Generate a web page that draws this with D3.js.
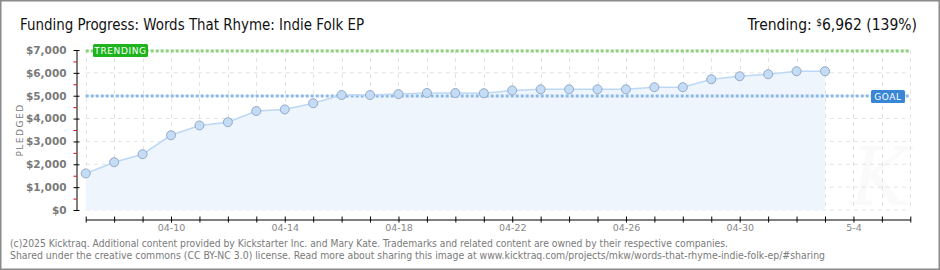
<!DOCTYPE html>
<html>
<head>
<meta charset="utf-8">
<script src="https://cdn.jsdelivr.net/npm/d3@7"></script>
<style>
  body { margin: 0; background: #fff; }
  svg { display: block; }
  .pix { font-family: "DejaVu Sans", sans-serif; }
</style>
</head>
<body>
<div id="chart"></div>
<script>
// daily pledged totals, 04-07 .. 05-03
var days = ["2025-04-07","2025-04-08","2025-04-09","2025-04-10","2025-04-11","2025-04-12","2025-04-13",
            "2025-04-14","2025-04-15","2025-04-16","2025-04-17","2025-04-18","2025-04-19","2025-04-20",
            "2025-04-21","2025-04-22","2025-04-23","2025-04-24","2025-04-25","2025-04-26","2025-04-27",
            "2025-04-28","2025-04-29","2025-04-30","2025-05-01","2025-05-02","2025-05-03"];
var pledged = [1600, 2090, 2440, 3270, 3700, 3840, 4330,
               4400, 4670, 5030, 5030, 5070, 5120, 5120,
               5110, 5230, 5280, 5280, 5280, 5280, 5370,
               5370, 5720, 5850, 5940, 6070, 6070];
var yTicks = [0, 1000, 2000, 3000, 4000, 5000, 6000, 7000];
var xLabels = {"2025-04-10": "04-10", "2025-04-14": "04-14", "2025-04-18": "04-18", "2025-04-22": "04-22",
               "2025-04-26": "04-26", "2025-04-30": "04-30", "2025-05-04": "5-4"};
var goal = 5000;
var trending = 6962;

var W = 940, H = 270;
var parse = d3.timeParse("%Y-%m-%d");
var fmtKey = d3.timeFormat("%Y-%m-%d");
var data = days.map(function(d, i) { return {date: parse(d), value: pledged[i]}; });

var x = d3.scaleTime()
  .domain([parse("2025-04-07"), parse("2025-05-06")])
  .range([85.7, 910.3]);
var y = d3.scaleLinear()
  .domain([0, 7000])
  .range([210, 50]);

var svg = d3.select("#chart").append("svg")
  .attr("width", W)
  .attr("height", H);

// frame
svg.append("rect")
  .attr("x", 0.5).attr("y", 0.5)
  .attr("width", W - 1).attr("height", H - 1)
  .attr("fill", "#fff").attr("stroke", "#8a8a8a").attr("stroke-width", 2);

// title
svg.append("text")
  .attr("x", 20).attr("y", 30)
  .attr("font-family", "'DejaVu Sans Condensed', 'Liberation Sans Narrow', sans-serif")
  .attr("font-size", 16)
  .attr("textLength", 344).attr("lengthAdjust", "spacingAndGlyphs")
  .attr("fill", "#111")
  .text("Funding Progress: Words That Rhyme: Indie Folk EP");

var tr = svg.append("text")
  .attr("x", 917).attr("y", 30)
  .attr("text-anchor", "end")
  .attr("font-family", "'DejaVu Sans Condensed', 'Liberation Sans Narrow', sans-serif")
  .attr("font-size", 15.5)
  .attr("fill", "#111");
tr.append("tspan").text("Trending: ");
tr.append("tspan").attr("font-size", 10).attr("dy", -4).text("$");
tr.append("tspan").attr("dy", 4).text(d3.format(",")(trending) + " (" + Math.round(trending / goal * 100) + "%)");

// watermark
svg.append("text")
  .attr("x", 850).attr("y", 205)
  .attr("font-family", "'DejaVu Serif', serif")
  .attr("font-style", "italic")
  .attr("font-size", 80)
  .attr("fill", "#fafafa")
  .text("K");

// grid
var allDays = d3.timeDay.range(x.domain()[0], d3.timeDay.offset(x.domain()[1], 1));
svg.append("g").selectAll("line")
  .data(yTicks)
  .enter().append("line")
  .attr("x1", x.range()[0]).attr("x2", x.range()[1])
  .attr("y1", function(d) { return y(d); }).attr("y2", function(d) { return y(d); })
  .attr("stroke", "#e3e3e3").attr("stroke-dasharray", "4,4");
svg.append("g").selectAll("line")
  .data(allDays)
  .enter().append("line")
  .attr("x1", function(d) { return Math.round(x(d)) + 0.5; })
  .attr("x2", function(d) { return Math.round(x(d)) + 0.5; })
  .attr("y1", y(7000)).attr("y2", y(0))
  .attr("stroke", "#e3e3e3").attr("stroke-dasharray", "4,4");

// area + line
var area = d3.area()
  .x(function(d) { return x(d.date); })
  .y0(y(0))
  .y1(function(d) { return y(d.value); });
var line = d3.line()
  .x(function(d) { return x(d.date); })
  .y(function(d) { return y(d.value); });

svg.append("path").datum(data)
  .attr("d", area)
  .attr("fill", "#eef5fd");

// goal and trending lines
svg.append("line")
  .attr("x1", x.range()[0]).attr("x2", x.range()[1])
  .attr("y1", Math.round(y(goal))).attr("y2", Math.round(y(goal)))
  .attr("stroke", "#8cb9ea").attr("stroke-width", 3).attr("stroke-dasharray", "3,2");
svg.append("line")
  .attr("x1", x.range()[0]).attr("x2", x.range()[1])
  .attr("y1", Math.round(y(trending))).attr("y2", Math.round(y(trending)))
  .attr("stroke", "#8fd07e").attr("stroke-width", 3).attr("stroke-dasharray", "3,2");

svg.append("path").datum(data)
  .attr("d", line)
  .attr("fill", "none")
  .attr("stroke", "#bcd8f6")
  .attr("stroke-width", 1.5);

svg.append("g").selectAll("circle")
  .data(data)
  .enter().append("circle")
  .attr("cx", function(d) { return x(d.date); })
  .attr("cy", function(d) { return y(d.value); })
  .attr("r", 4.5)
  .attr("fill", "#c4dcf6")
  .attr("stroke", "#93aac6")
  .attr("stroke-width", 1);

// labels on lines
function tag(xPos, yPos, w, color, label) {
  svg.append("rect")
    .attr("x", xPos).attr("y", yPos)
    .attr("width", w).attr("height", 13)
    .attr("rx", 1.5)
    .attr("fill", color);
  svg.append("text")
    .attr("x", xPos + w / 2).attr("y", yPos + 10)
    .attr("text-anchor", "middle")
    .attr("class", "pix")
    .attr("font-size", 9)
    .attr("letter-spacing", 0.6)
    .attr("fill", "#fff")
    .text(label);
}
tag(93, Math.round(y(trending)) - 7, 55, "#1db41d", "TRENDING");
tag(871, Math.round(y(goal)) - 6, 34, "#3a86d6", "GOAL");

// y axis
var yAxis = svg.append("g")
  .attr("transform", "translate(76.5,0)")
  .call(d3.axisLeft(y).tickValues(yTicks).tickSizeInner(3).tickSizeOuter(0)
    .tickPadding(7)
    .tickFormat(function(d) { return "$" + d3.format(",")(d); }));
yAxis.selectAll(".tick line").attr("x1", 3).attr("stroke", "#000");
yAxis.select(".domain").attr("stroke", "#000");
yAxis.selectAll("text")
  .attr("class", "pix")
  .attr("font-size", 10.5)
  .attr("font-weight", "bold")
  .attr("fill", "#7a7a7a");

var yMinor = svg.append("g")
  .attr("transform", "translate(76.5,0)")
  .call(d3.axisLeft(y).tickValues(d3.range(500, 7000, 1000)).tickSize(3).tickFormat(""));
yMinor.select(".domain").remove();
yMinor.selectAll(".tick line").attr("stroke", "#e00000");

svg.append("text")
  .attr("transform", "translate(23,130) rotate(-90)")
  .attr("text-anchor", "middle")
  .attr("class", "pix")
  .attr("font-size", 9)
  .attr("letter-spacing", 1.5)
  .attr("fill", "#7a7a7a")
  .text("PLEDGED");

// x axis
var xAxis = svg.append("g")
  .attr("transform", "translate(0,219.5)")
  .call(d3.axisBottom(x).tickValues(allDays).tickSizeInner(3).tickSizeOuter(0)
    .tickPadding(2)
    .tickFormat(function(d) { return xLabels[fmtKey(d)] || ""; }));
xAxis.selectAll(".tick line").attr("y1", -3).attr("stroke", "#000");
xAxis.select(".domain").attr("stroke", "#000");
xAxis.selectAll("text")
  .attr("class", "pix")
  .attr("font-size", 9.5)
  .attr("fill", "#888");

// footer
var foot = [
  "(c)2025 Kicktraq. Additional content provided by Kickstarter Inc. and Mary Kate. Trademarks and related content are owned by their respective companies.",
  "Shared under the creative commons (CC BY-NC 3.0) license. Read more about sharing this image at www.kicktraq.com/projects/mkw/words-that-rhyme-indie-folk-ep/#sharing"
];
svg.append("g").selectAll("text")
  .data(foot)
  .enter().append("text")
  .attr("x", 10)
  .attr("y", function(d, i) { return 247 + i * 12; })
  .attr("font-family", "'DejaVu Sans', Verdana, sans-serif")
  .attr("font-size", 10)
  .attr("fill", "#7a7a7a")
  .attr("textLength", function(d, i) { return i === 0 ? 718 : 815; })
  .attr("lengthAdjust", "spacingAndGlyphs")
  .text(function(d) { return d; });
</script>
</body>
</html>
